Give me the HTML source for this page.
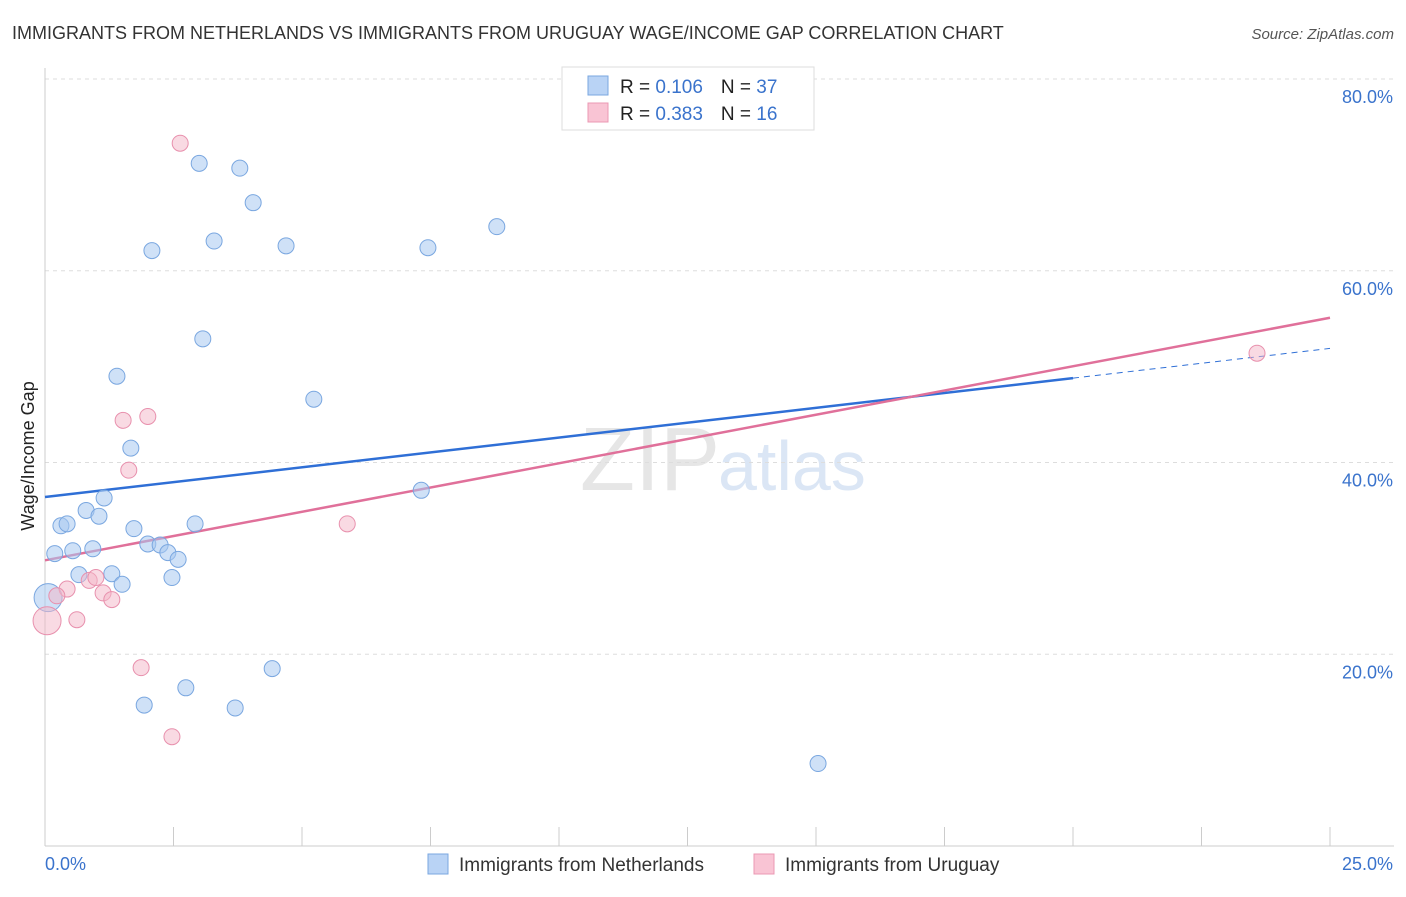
<!DOCTYPE html>
<html><head><meta charset="utf-8"><style>
body{margin:0;background:#fff;font-family:"Liberation Sans",sans-serif;}
svg text{font-family:"Liberation Sans",sans-serif;}
</style></head><body>
<svg width="1406" height="892" xmlns="http://www.w3.org/2000/svg" id="chart">
<text x="12" y="39" font-size="18" fill="#333">IMMIGRANTS FROM NETHERLANDS VS IMMIGRANTS FROM URUGUAY WAGE/INCOME GAP CORRELATION CHART</text>
<text x="1394" y="39" font-size="15" fill="#555" font-style="italic" text-anchor="end">Source: ZipAtlas.com</text>
<text x="34" y="456" font-size="18" fill="#222" text-anchor="middle" transform="rotate(-90 34 456)">Wage/Income Gap</text>
<text x="720" y="490" font-size="90" fill="#e6e6e6" text-anchor="end" font-family="Liberation Serif">ZIP</text>
<text x="718" y="490" font-size="70" fill="#dbe6f5">atlas</text>
<g id="grid"></g><g id="axes"></g><g id="trends"></g><g id="points"></g>
<g>
<rect x="562" y="67" width="252" height="63" fill="#fff" stroke="#ddd"/>
<rect x="588" y="76" width="20" height="19" fill="#b9d3f5" stroke="#7aa7e0"/>
<rect x="588" y="103" width="20" height="19" fill="#f9c4d4" stroke="#eb98b3"/>
<text x="620" y="93" font-size="19" fill="#222">R = <tspan fill="#3a73cc">0.106</tspan><tspan dx="18">N = </tspan><tspan fill="#3a73cc">37</tspan></text>
<text x="620" y="120" font-size="19" fill="#222">R = <tspan fill="#3a73cc">0.383</tspan><tspan dx="18">N = </tspan><tspan fill="#3a73cc"> 16</tspan></text>
</g>
<g>
<rect x="428" y="854" width="20" height="20" fill="#b9d3f5" stroke="#7aa7e0"/>
<text x="459" y="871" font-size="19" fill="#333">Immigrants from Netherlands</text>
<rect x="754" y="854" width="20" height="20" fill="#f9c4d4" stroke="#eb98b3"/>
<text x="785" y="871" font-size="19" fill="#333">Immigrants from Uruguay</text>
</g>
</svg>
<script>
const blueX=[3.00,3.79,4.05,2.08,3.29,4.69,7.45,8.79,3.07,1.40,5.23,1.67,7.32,1.15,0.80,1.05,0.31,0.43,1.73,2.92,0.19,0.54,0.93,2.00,2.24,2.39,2.59,0.66,1.30,1.50,2.47,0.06,4.42,2.74,1.93,3.70,15.04];
const blueY=[71.2,70.7,67.1,62.1,63.1,62.6,62.4,64.6,52.9,49.0,46.6,41.5,37.1,36.3,35.0,34.4,33.4,33.6,33.1,33.6,30.5,30.8,31.0,31.5,31.4,30.6,29.9,28.3,28.4,27.3,28.0,25.9,18.5,16.5,14.7,14.4,8.6];
const pinkX=[2.63,1.52,2.00,1.63,5.88,0.43,0.23,0.86,0.99,1.13,1.30,0.62,0.04,1.87,2.47,23.58];
const pinkY=[73.3,44.4,44.8,39.2,33.6,26.8,26.1,27.7,28.0,26.4,25.7,23.6,23.5,18.6,11.4,51.4];
const blueTrend=[36.4,48.8,51.9]; // at x=0, 20, 25
const pinkTrend=[29.8,55.1]; // at x=0, 25
const yTicks=[20,40,60,80];
const yTickLabels=["20.0%","40.0%","60.0%","80.0%"];
const xTicks=[0,2.5,5,7.5,10,12.5,15,17.5,20,22.5,25];
const NS="http://www.w3.org/2000/svg";
const sx=v=>45+v/25*1285, sy=v=>846-v*9.5875;
function mk(tag,attrs,parent){const e=document.createElementNS(NS,tag);for(const k in attrs)e.setAttribute(k,attrs[k]);document.getElementById(parent).appendChild(e);return e;}
yTicks.forEach((t,i)=>{
 const l=mk('line',{x1:45,x2:1394,y1:sy(t),y2:sy(t),stroke:'#ddd','stroke-dasharray':'4,4'},'grid');
 
 
 const tx=mk('text',{x:1393,y:sy(t)+24,'font-size':18,fill:'#3a73cc','text-anchor':'end'},'grid');
 tx.textContent=yTickLabels[i];
 
 
});
const ax=mk('line',{x1:45,x2:1394,y1:846,y2:846,stroke:'#ccc'},'axes');


const ay=mk('line',{x1:45,x2:45,y1:68,y2:846,stroke:'#ccc'},'axes');


xTicks.forEach(t=>{
 const l=mk('line',{x1:sx(t),x2:sx(t),y1:827,y2:846,stroke:'#ccc'},'axes');
 
 
});
const xl0=mk('text',{x:45,y:870,'font-size':18,fill:'#3a73cc'},'axes');xl0.textContent='0.0%';


const xl1=mk('text',{x:1393,y:870,'font-size':18,fill:'#3a73cc','text-anchor':'end'},'axes');xl1.textContent='25.0%';


const bt=mk('line',{x1:sx(0),y1:sy(blueTrend[0]),x2:sx(20),y2:sy(blueTrend[1]),stroke:'#2f6fd6','stroke-width':2.5},'trends');


const bd=mk('line',{x1:sx(20),y1:sy(blueTrend[1]),x2:sx(25),y2:sy(blueTrend[2]),stroke:'#2f6fd6','stroke-width':1,'stroke-dasharray':'6,5'},'trends');


const pt=mk('line',{x1:sx(0),y1:sy(pinkTrend[0]),x2:sx(25),y2:sy(pinkTrend[1]),stroke:'#e0709a','stroke-width':2.5},'trends');


blueX.forEach((x,i)=>{
 const c=mk('circle',{cx:sx(x),cy:sy(blueY[i]),r:x<0.1?14:8,fill:'rgba(168,200,240,0.55)',stroke:'#7aa7e0','stroke-width':1},'points');
 
 
});
pinkX.forEach((x,i)=>{
 const c=mk('circle',{cx:sx(x),cy:sy(pinkY[i]),r:x<0.1?14:8,fill:'rgba(244,182,200,0.5)',stroke:'#e890ad','stroke-width':1},'points');
 
 
});
</script>
</body></html>
